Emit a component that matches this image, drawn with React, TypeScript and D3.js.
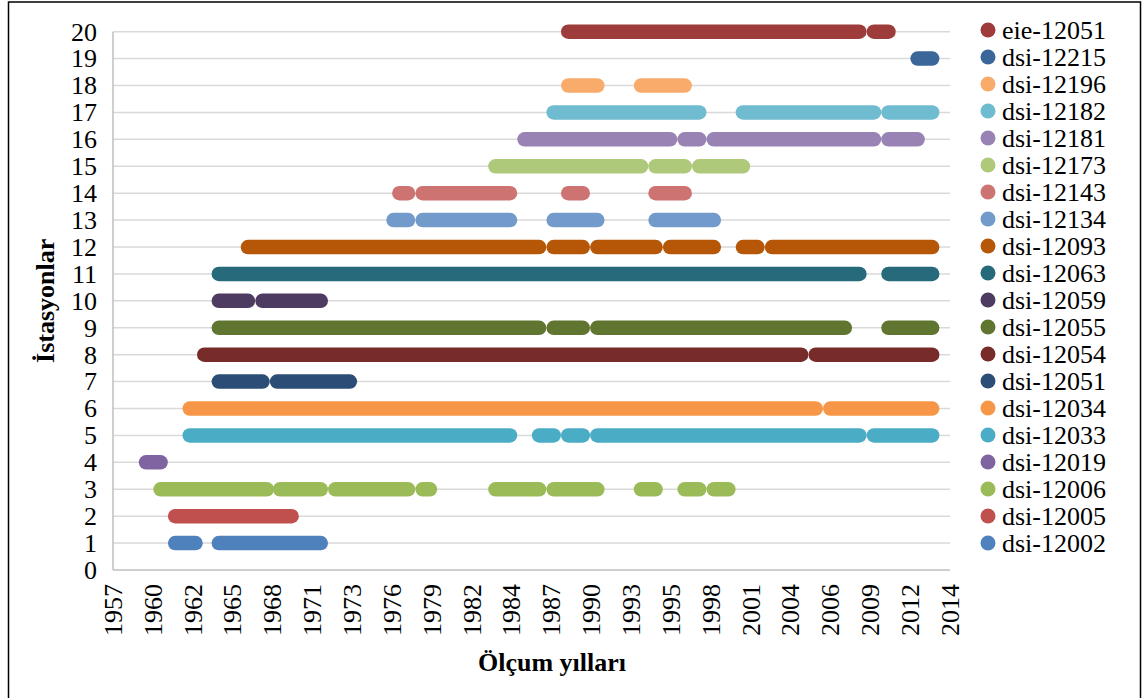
import React from "react";
import * as d3 from "d3";

// Station names, bottom (1) to top (20)
const stationNames = [
  "dsi-12002", "dsi-12005", "dsi-12006", "dsi-12019", "dsi-12033",
  "dsi-12034", "dsi-12051", "dsi-12054", "dsi-12055", "dsi-12059",
  "dsi-12063", "dsi-12093", "dsi-12134", "dsi-12143", "dsi-12173",
  "dsi-12181", "dsi-12182", "dsi-12196", "dsi-12215", "eie-12051",
];

const stationColors = [
  "#4F81BD", "#C0504D", "#9BBB59", "#8064A2", "#4BACC6",
  "#F79646", "#2C4D75", "#772C2A", "#5F7530", "#4D3B62",
  "#276A7C", "#B65708", "#729ACA", "#CD7371", "#AFC97A",
  "#9983B5", "#6FBBD0", "#F9AB6B", "#3A6699", "#9E3B3B",
];

// Measurement periods (start year, end year) for each station
const periods: [number, number][][] = [
  [[1961, 1962.4], [1964, 1971]],
  [[1961, 1969]],
  [[1960, 1967.3], [1968.2, 1971], [1972, 1977], [1978, 1978.5], [1983, 1986], [1987, 1990], [1993, 1994], [1996, 1997], [1998, 1999]],
  [[1959, 1960]],
  [[1962, 1984], [1986, 1987], [1988, 1989], [1990, 2008], [2009, 2013]],
  [[1962, 2005], [2006, 2013]],
  [[1964, 1967], [1968, 1973]],
  [[1963, 2004], [2005, 2013]],
  [[1964, 1986], [1987, 1989], [1990, 2007], [2010, 2013]],
  [[1964, 1966], [1967, 1971]],
  [[1964, 2008], [2010, 2013]],
  [[1966, 1986], [1987, 1989], [1990, 1994], [1995, 1998], [2000, 2001], [2002, 2013]],
  [[1976, 1977], [1978, 1984], [1987, 1990], [1994, 1998]],
  [[1976.4, 1977], [1978, 1984], [1988, 1989], [1994, 1996]],
  [[1983, 1993], [1994, 1996], [1997, 2000]],
  [[1985, 1995], [1996, 1997], [1998, 2009], [2010, 2012]],
  [[1987, 1997], [2000, 2009], [2010, 2013]],
  [[1988, 1990], [1993, 1996]],
  [[2012, 2013]],
  [[1988, 2008], [2009, 2010]],
];

const xTickLabels = [
  "1957", "1960", "1962", "1965", "1968", "1971", "1973", "1976", "1979", "1982", "1984",
  "1987", "1990", "1993", "1995", "1998", "2001", "2004", "2006", "2009", "2012", "2014",
];
const yTicks = d3.range(0, 21);

const X_MIN = 1956.73;
const X_STEP = 1000 / 365.25;

const W = 1143;
const H = 698;
const PL = 113, PR = 950, PT = 31.7, PB = 570;
const FONT = '"Liberation Serif", "Times New Roman", Tinos, "DejaVu Serif", serif';
const txt = { fontFamily: FONT } as React.CSSProperties;

export default function App() {
  const x = d3.scaleLinear().domain([X_MIN, X_MIN + (xTickLabels.length - 1) * X_STEP]).range([PL, PR]);
  const y = d3.scaleLinear().domain([0, 20]).range([PB, PT]);
  const tickPos = xTickLabels.map((_, i) => X_MIN + i * X_STEP);

  return (
    <svg width={W} height={H} style={{ position: "absolute", left: 0, top: 0, background: "#fff", fontFamily: FONT }}>
      <rect x={8.5} y={2} width={1132} height={720} fill="#fff" stroke="#000" strokeWidth={1.5} />
      {/* gridlines */}
      {yTicks.filter((v) => v > 0).map((v) => (
        <line key={v} x1={PL} x2={PR} y1={y(v)} y2={y(v)} stroke="#D9D9D9" strokeWidth={1.5} />
      ))}
      {/* axes */}
      <line x1={PL} x2={PR} y1={y(0)} y2={y(0)} stroke="#BFBFBF" strokeWidth={1.5} />
      <line x1={PL} x2={PL} y1={y(0)} y2={y(20)} stroke="#BFBFBF" strokeWidth={1.5} />
      {/* y tick labels */}
      {yTicks.map((v) => (
        <text key={v} x={97} y={y(v)} dy="0.34em" textAnchor="end" fontSize={26} fill="#000" style={txt}>{v}</text>
      ))}
      {/* x tick labels */}
      {xTickLabels.map((lab, i) => {
        const px = x(tickPos[i]);
        return (
          <text key={lab + i} transform={`translate(${px},584) rotate(-90)`} dy="0.34em" textAnchor="end" fontSize={26} fill="#000" style={txt}>{lab}</text>
        );
      })}
      {/* segments */}
      {periods.map((segs, si) => (
        <g key={si}>
          {segs.map(([a, b], j) => (
            <line key={j} x1={x(a)} x2={x(b)} y1={y(si + 1)} y2={y(si + 1)} stroke={stationColors[si]} strokeWidth={14.5} strokeLinecap="round" />
          ))}
        </g>
      ))}
      {/* axis titles */}
      <text x={552} y={671} textAnchor="middle" fontSize={26} fontWeight="bold" fill="#000" style={txt}>Ölçum yılları</text>
      <text transform={`translate(54,${(PT + PB) / 2}) rotate(-90)`} textAnchor="middle" fontSize={26} fontWeight="bold" fill="#000" style={txt}>İstasyonlar</text>
      {/* legend */}
      {stationNames.slice().reverse().map((name, i) => {
        const si = stationNames.length - 1 - i;
        const ly = 30 + i * 27;
        return (
          <g key={name}>
            <circle cx={988} cy={ly} r={7.5} fill={stationColors[si]} />
            <text x={1002} y={ly} dy="0.34em" fontSize={26} fill="#000" style={txt}>{name}</text>
          </g>
        );
      })}
    </svg>
  );
}
